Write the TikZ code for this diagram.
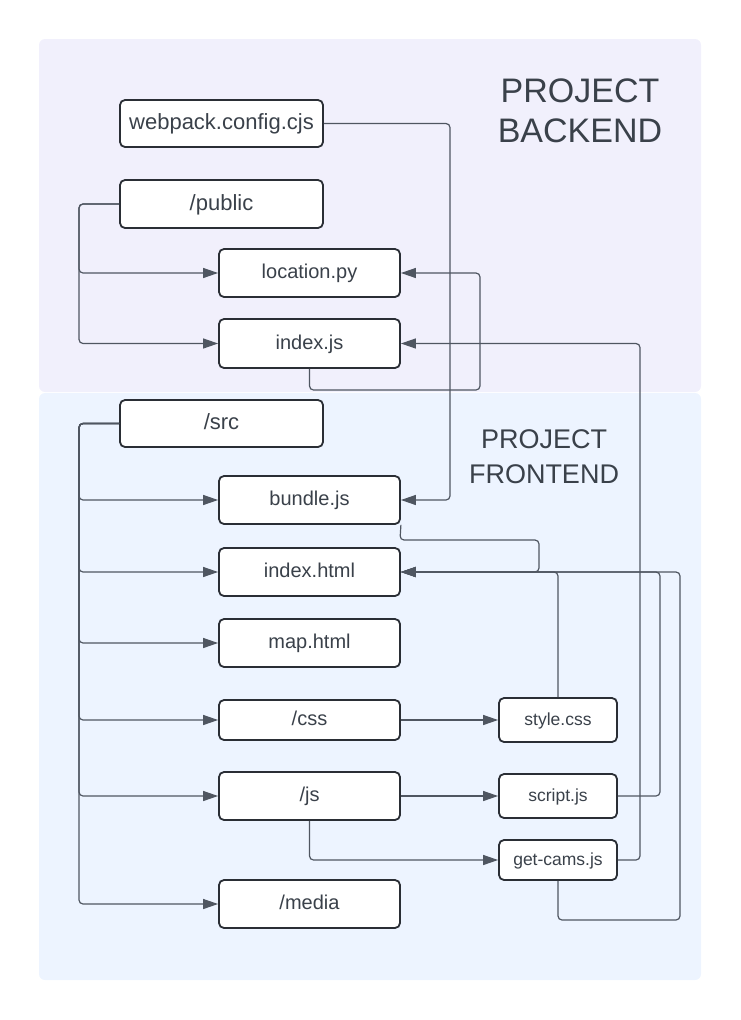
\documentclass[tikz,border=0pt]{standalone}
\usepackage{fontspec}
\setmainfont{Liberation Sans}
\usetikzlibrary{arrows.meta}
\definecolor{bebg}{HTML}{F1F0FC}
\definecolor{febg}{HTML}{EDF4FF}
\definecolor{ink}{HTML}{3A414A}
\definecolor{wire}{HTML}{4F5661}
\definecolor{edge}{HTML}{2A2E35}
\begin{document}
\begin{tikzpicture}[x=1pt,y=-1pt,
  box/.style={draw=edge,line width=1.8pt,fill=white,rounded corners=5pt,inner sep=0pt,text=ink,align=center},
  topbox/.style={box,minimum width=203pt,minimum height=47pt,font=\fontsize{22}{26}\selectfont,text height=15.8pt,text depth=3.3pt},
  midbox/.style={box,minimum width=181pt,minimum height=48pt,font=\fontsize{20}{24}\selectfont,text height=14.4pt,text depth=3pt},
  smallbox/.style={box,minimum width=118pt,minimum height=44pt,font=\fontsize{17.5}{21}\selectfont,text height=12.6pt,text depth=2.6pt},
  conn/.style={draw=wire,line width=1.2pt,rounded corners=4pt,-{Triangle[length=15pt,width=10pt]}},
  titletext/.style={text=ink,align=center,inner sep=0pt}]
\useasboundingbox (0,0) rectangle (740,1020);
\path[fill=bebg,rounded corners=6pt] (39,39) rectangle (701,392);
\path[fill=febg,rounded corners=6pt] (39,393) rectangle (701,980);

\node[titletext,font=\fontsize{34}{40}\selectfont] (beTitle) at (580,111) {PROJECT\\BACKEND};
\node[titletext,font=\fontsize{27}{35}\selectfont] (feTitle) at (544,457) {PROJECT\\FRONTEND};

\node[topbox] (web) at (221.5,123.5) {webpack.config.cjs};
\node[topbox,minimum height=48pt] (pub) at (221.5,204) {/public};
\node[midbox] (loc) at (309.5,273) {location.py};
\node[midbox,minimum height=49pt] (idxjs) at (309.5,343.5) {index.js};
\node[topbox] (src) at (221.5,423.5) {/src};
\node[midbox] (bundle) at (309.5,500) {bundle.js};
\node[midbox] (idxhtml) at (309.5,572) {index.html};
\node[midbox] (map) at (309.5,643) {map.html};
\node[midbox,minimum height=40pt] (css) at (309.5,720) {/css};
\node[midbox] (js) at (309.5,796) {/js};
\node[midbox] (media) at (309.5,904) {/media};
\node[smallbox] (style) at (558,720) {style.css};
\node[smallbox] (script) at (558,796) {script.js};
\node[smallbox,minimum height=40pt] (getcams) at (558,860) {get-cams.js};

\coordinate (tA) at (79,204);
\draw[conn] (pub.west) -- (tA) |- (loc.west);
\draw[conn] (pub.west) -- (tA) |- (idxjs.west);
\coordinate (tB) at (79,423.5);
\foreach \t in {bundle,idxhtml,map,css,js,media}
  \draw[conn] (src.west) -- (tB) |- (\t.west);

\coordinate (wX) at (450,123.5);
\draw[conn] (web.east) -- (wX) |- (bundle.east);

\coordinate (l1) at (309.5,390);
\coordinate (l2) at (480,390);
\draw[conn] (idxjs.south) -- (l1) -- (l2) |- (loc.east);

\coordinate (g1) at (640,860);
\draw[conn] (getcams.east) -- (g1) |- (idxjs.east);

\coordinate (b1) at (400,540);
\coordinate (b2) at (539,540);
\draw[conn] (bundle.south east) -- (b1) -- (b2) |- (idxhtml.east);
\draw[conn] (style.north) |- (idxhtml.east);
\coordinate (s1) at (660,796);
\draw[conn] (script.east) -- (s1) |- (idxhtml.east);
\coordinate (c1) at (558,920);
\coordinate (c2) at (680,920);
\draw[conn] (getcams.south) -- (c1) -- (c2) |- (idxhtml.east);

\draw[conn] (css.east) -- (style.west);
\draw[conn] (js.east) -- (script.west);
\coordinate (j1) at (309.5,860);
\draw[conn] (js.south) -- (j1) -- (getcams.west);
\end{tikzpicture}
\end{document}
